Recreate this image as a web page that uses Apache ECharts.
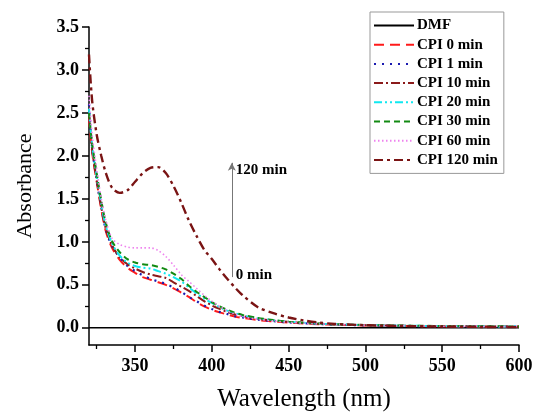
<!DOCTYPE html>
<html>
<head>
<meta charset="utf-8">
<script src="https://cdn.jsdelivr.net/npm/echarts@6/dist/echarts.min.js"></script>
<style>html,body{margin:0;padding:0;background:#fff}#c{width:534px;height:412px}</style>
</head>
<body>
<div id="c"></div>
<script>
// Wavelength grid (nm)
var wavelengths = [320, 322, 325, 328, 331, 335, 340, 345, 350, 355, 360, 365, 370, 375, 380, 385, 390, 395, 400, 405, 410, 415, 420, 430, 440, 450, 460, 470, 480, 500, 520, 550, 575, 600];

var seriesNames = ['DMF', 'CPI 0 min', 'CPI 1 min', 'CPI 10 min', 'CPI 20 min', 'CPI 30 min', 'CPI 60 min', 'CPI 120 min'];

var dmf     = [0, 0, 0, 0, 0, 0, 0, 0, 0, 0, 0, 0, 0, 0, 0, 0, 0, 0, 0, 0, 0, 0, 0, 0, 0, 0, 0, 0, 0, 0, 0, 0, 0, 0];
var cpi0    = [2.45, 2.05, 1.70, 1.38, 1.12, 0.93, 0.79, 0.70, 0.64, 0.59, 0.56, 0.53, 0.50, 0.46, 0.41, 0.36, 0.30, 0.25, 0.21, 0.18, 0.155, 0.13, 0.115, 0.09, 0.075, 0.06, 0.05, 0.042, 0.036, 0.028, 0.022, 0.017, 0.014, 0.012];
var cpi1    = [2.60, 2.10, 1.72, 1.40, 1.14, 0.95, 0.82, 0.72, 0.66, 0.61, 0.57, 0.54, 0.51, 0.47, 0.42, 0.36, 0.31, 0.26, 0.22, 0.185, 0.16, 0.135, 0.12, 0.095, 0.078, 0.063, 0.052, 0.044, 0.037, 0.029, 0.023, 0.018, 0.015, 0.013];
var cpi10   = [2.50, 2.08, 1.72, 1.40, 1.15, 0.96, 0.82, 0.74, 0.69, 0.65, 0.62, 0.60, 0.58, 0.53, 0.48, 0.43, 0.37, 0.31, 0.26, 0.22, 0.185, 0.155, 0.135, 0.105, 0.085, 0.068, 0.056, 0.047, 0.040, 0.031, 0.025, 0.019, 0.016, 0.014];
var cpi20   = [2.55, 2.12, 1.76, 1.44, 1.18, 0.98, 0.84, 0.76, 0.72, 0.70, 0.69, 0.66, 0.63, 0.59, 0.54, 0.47, 0.40, 0.34, 0.29, 0.24, 0.20, 0.17, 0.145, 0.11, 0.088, 0.07, 0.058, 0.048, 0.041, 0.032, 0.026, 0.02, 0.017, 0.015];
var cpi30   = [2.50, 2.15, 1.80, 1.48, 1.22, 1.01, 0.88, 0.80, 0.76, 0.74, 0.73, 0.71, 0.68, 0.63, 0.57, 0.49, 0.42, 0.36, 0.30, 0.25, 0.21, 0.175, 0.15, 0.115, 0.09, 0.072, 0.06, 0.05, 0.042, 0.033, 0.027, 0.021, 0.018, 0.016];
var cpi60   = [2.70, 2.25, 1.85, 1.50, 1.25, 1.04, 0.97, 0.94, 0.93, 0.93, 0.93, 0.90, 0.83, 0.73, 0.62, 0.54, 0.46, 0.38, 0.31, 0.25, 0.20, 0.16, 0.13, 0.10, 0.08, 0.065, 0.054, 0.046, 0.04, 0.031, 0.025, 0.019, 0.016, 0.014];
var cpi120  = [3.18, 2.65, 2.25, 2.00, 1.80, 1.63, 1.57, 1.60, 1.70, 1.80, 1.86, 1.87, 1.80, 1.65, 1.46, 1.25, 1.07, 0.91, 0.80, 0.68, 0.57, 0.47, 0.38, 0.24, 0.17, 0.12, 0.085, 0.06, 0.045, 0.03, 0.022, 0.015, 0.01, 0.008];

var xMajorTicks = [350, 400, 450, 500, 550, 600];
var xMinorTicks = [325, 375, 425, 475, 525, 575];
var yMajorTicks = [0, 0.5, 1.0, 1.5, 2.0, 2.5, 3.0, 3.5];
var yMinorTicks = [0.25, 0.75, 1.25, 1.75, 2.25, 2.75, 3.25];

var annotation = { x: 413, yLow: 0.59, yHigh: 1.92, lowLabel: '0 min', highLabel: '120 min' };

function pairs(ys) { return wavelengths.map(function (w, i) { return [w, ys[i]]; }); }

var FONT = 'Liberation Serif';
var allData = [dmf, cpi0, cpi1, cpi10, cpi20, cpi30, cpi60, cpi120];
var colors = ['#000000', '#ff1a1a', '#1a1ab0', '#8b1a1a', '#10e8f0', '#128a12', '#ee82ee', '#7a1414'];
var dashes = ['solid', [10, 6], [2, 6], [9, 3, 2, 3], [8, 3, 2, 3, 2, 3], [6, 4], [1.5, 2.5], [9, 4, 3, 4]];
var widths = [1.5, 2, 2.2, 2, 2, 2, 1.6, 2.4];

var series = allData.map(function (d, i) {
  return {
    name: seriesNames[i], type: 'line', data: pairs(d), symbol: 'none', smooth: 0.3,
    xAxisIndex: 0, yAxisIndex: 0,
    lineStyle: { color: colors[i], type: dashes[i], width: widths[i] },
    itemStyle: { color: colors[i] }, z: 2 + i
  };
});
series[0].markLine = {
  silent: true, symbol: ['none', 'arrow'], symbolSize: [6, 8],
  lineStyle: { color: '#777', type: 'solid', width: 1 }, label: { show: false },
  data: [[{ coord: [annotation.x, annotation.yLow] }, { coord: [annotation.x, annotation.yHigh] }]]
};
series[0].markPoint = {
  silent: true, symbol: 'circle', symbolSize: 0,
  label: { show: true, position: 'right', distance: 4, color: '#000', fontFamily: FONT, fontWeight: 'bold', fontSize: 15 },
  data: [
    { coord: [annotation.x, annotation.yHigh - 0.08], value: annotation.highLabel, label: { formatter: annotation.highLabel } },
    { coord: [annotation.x, annotation.yLow + 0.02], value: annotation.lowLabel, label: { formatter: annotation.lowLabel } }
  ]
};

var chart = echarts.init(document.getElementById('c'), null, { renderer: 'canvas' });
var axisFont = { color: '#000', fontFamily: FONT, fontWeight: 'bold', fontSize: 18 };
chart.setOption({
  animation: false,
  backgroundColor: '#fff',
  grid: { left: 89, right: 15, top: 27, bottom: 67, containLabel: false, outerBoundsMode: 'none' },
  legend: {
    orient: 'vertical', left: 370, top: 12,
    data: seriesNames,
    itemWidth: 40, itemHeight: 10, itemGap: 4.2,
    padding: [6, 6, 6, 3],
    itemStyle: { opacity: 0 },
    backgroundColor: '#fff', borderColor: '#999', borderWidth: 1,
    textStyle: { color: '#000', fontFamily: FONT, fontWeight: 'bold', fontSize: 15, lineHeight: 14, padding: [0, 0, 0, -2] }
  },
  xAxis: [{
    type: 'value', min: 320, max: 600,
    name: 'Wavelength (nm)', nameLocation: 'middle', nameGap: 42,
    nameTextStyle: { color: '#000', fontFamily: FONT, fontSize: 25 },
    axisLine: { show: true, onZero: false, lineStyle: { color: '#000', width: 1.5 } },
    axisTick: { show: true, length: 7, lineStyle: { color: '#000', width: 1.5 }, customValues: xMajorTicks },
    axisLabel: Object.assign({ margin: 12, customValues: xMajorTicks }, axisFont),
    splitLine: { show: false }
  }, {
    type: 'value', min: 320, max: 600, position: 'bottom',
    axisLine: { show: false, onZero: false },
    axisTick: { show: true, length: 4, lineStyle: { color: '#000', width: 1.3 }, customValues: xMinorTicks },
    axisLabel: { show: false }, splitLine: { show: false }
  }],
  yAxis: [{
    type: 'value', min: -0.2, max: 3.5,
    name: 'Absorbance', nameLocation: 'middle', nameGap: 53,
    nameTextStyle: { color: '#000', fontFamily: FONT, fontSize: 22 },
    axisLine: { show: true, onZero: false, lineStyle: { color: '#000', width: 1.5 } },
    axisTick: { show: true, length: 7, lineStyle: { color: '#000', width: 1.5 }, customValues: yMajorTicks },
    axisLabel: Object.assign({ margin: 10, customValues: yMajorTicks, formatter: function (v) { return v.toFixed(1); } }, axisFont),
    splitLine: { show: false }
  }, {
    type: 'value', min: -0.2, max: 3.5, position: 'left',
    axisLine: { show: false, onZero: false },
    axisTick: { show: true, length: 4, lineStyle: { color: '#000', width: 1.3 }, customValues: yMinorTicks },
    axisLabel: { show: false }, splitLine: { show: false }
  }],
  series: series
});
</script>
</body>
</html>
